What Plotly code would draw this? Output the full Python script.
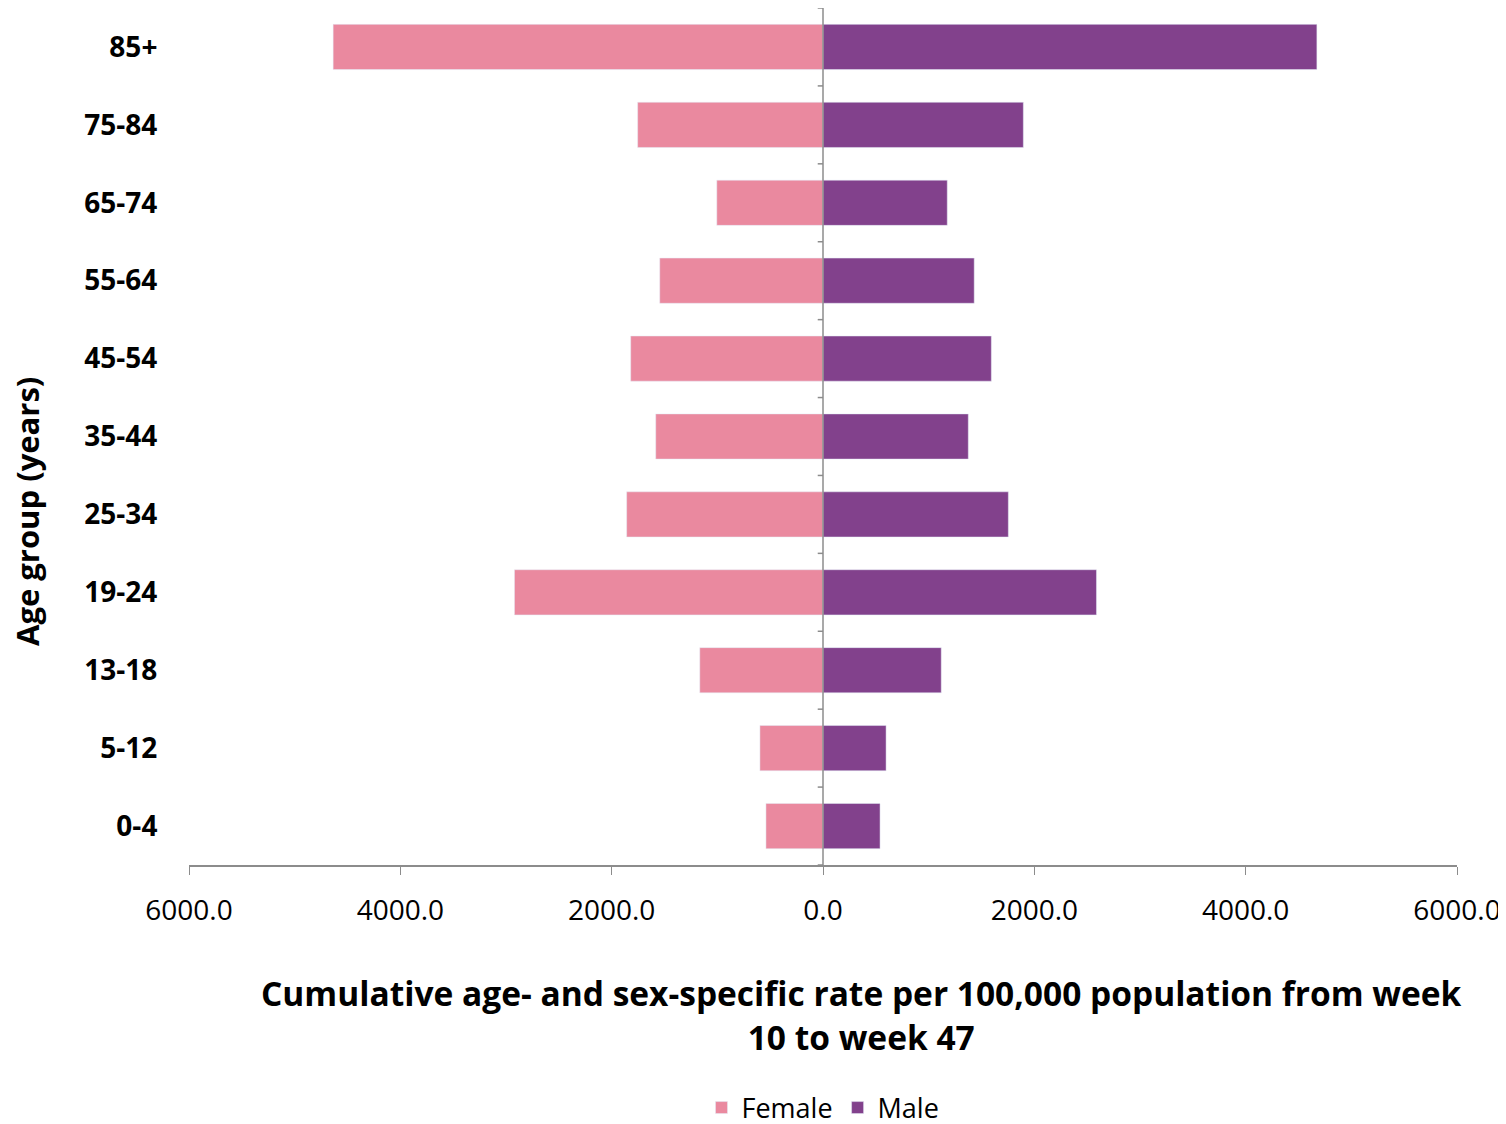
import plotly.graph_objects as go

age_groups = ['0-4', '5-12', '13-18', '19-24', '25-34', '35-44', '45-54', '55-64', '65-74', '75-84', '85+']
female = [540, 597, 1166, 2920, 1858, 1583, 1820, 1545, 1005, 1754, 4636]
male = [540, 597, 1119, 2588, 1754, 1375, 1593, 1431, 1176, 1896, 4674]
tick_vals = [-6000, -4000, -2000, 0, 2000, 4000, 6000]
tick_text = ['6000.0', '4000.0', '2000.0', '0.0', '2000.0', '4000.0', '6000.0']

fig = go.Figure()
fig.add_trace(go.Bar(y=age_groups, x=[-v for v in female], name='Female', orientation='h',
                     marker=dict(color='#EA899F'), width=0.58))
fig.add_trace(go.Bar(y=age_groups, x=male, name='Male', orientation='h',
                     marker=dict(color='#82418C'), width=0.58))

# tick marks on the centre axis
shapes = [dict(type='line', xref='x', yref='y', x0=0, x1=0, y0=-0.5, y1=10.5,
               line=dict(color='#8C8C8C', width=1.5))]
for i in range(12):
    shapes.append(dict(type='line', xref='x', yref='y', x0=-50, x1=0, y0=i - 0.5, y1=i - 0.5,
                       line=dict(color='#8C8C8C', width=1.5)))

fig.update_layout(
    width=1506, height=1124,
    barmode='overlay',
    plot_bgcolor='white', paper_bgcolor='white',
    font=dict(family='Open Sans, Liberation Sans, sans-serif', size=28, color='black'),
    margin=dict(l=181, r=57, t=0, b=267, autoexpand=False),
    shapes=shapes,
    legend=dict(orientation='h', x=0.5, xanchor='center', xref='paper', y=-0.255, yanchor='top',
                font=dict(size=27), itemwidth=30),
    annotations=[
        dict(text='<b>Cumulative age- and sex-specific rate per 100,000 population from week<br>10 to week 47</b>',
             xref='paper', yref='paper', x=0.53, y=-0.12, yanchor='top', showarrow=False,
             font=dict(size=33.5)),
        dict(text='<b>Age group (years)</b>', xref='paper', yref='paper', x=-0.146, y=0.413,
             textangle=-90, showarrow=False, font=dict(size=31)),
    ],
    xaxis=dict(range=[-6000, 6000], tickvals=tick_vals, ticktext=tick_text, automargin=False,
               showline=True, linecolor='#8C8C8C', linewidth=1.5, ticklabelstandoff=12,
               ticks='outside', ticklen=8, tickcolor='#8C8C8C', showgrid=False, zeroline=False),
    yaxis=dict(range=[-0.5, 10.5], showline=False, showgrid=False, zeroline=False, automargin=False,
               ticks='outside', ticklen=25, tickcolor='white',
               tickfont=dict(size=28),
               tickvals=age_groups, ticktext=['<b>%s</b>' % a for a in age_groups]),
)

fig.write_html("out.html")
